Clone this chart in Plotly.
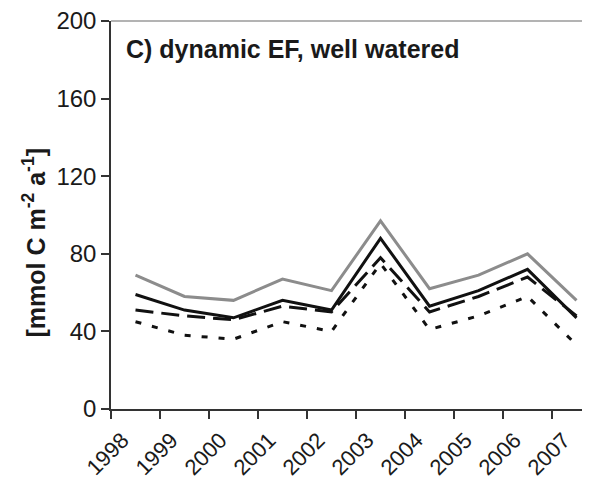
import plotly.graph_objects as go

# values
years = ["1998", "1999", "2000", "2001", "2002", "2003", "2004", "2005", "2006", "2007"]
gray_solid = [69, 58, 56, 67, 61, 97, 62, 69, 80, 56]
black_solid = [59, 51, 47, 56, 51, 88, 53, 61, 72, 47]
black_dash = [51, 48, 46, 53, 50, 78, 50, 58, 68, 48]
black_dot = [45, 38, 36, 45, 40, 75, 41, 48, 58, 33]
y_ticks = [0, 40, 80, 120, 160, 200]

FONT = "Liberation Sans, Arial, sans-serif"
TEXT = "#1a1a1a"

fig = go.Figure()

fig.add_trace(go.Scatter(x=years, y=gray_solid, mode="lines",
                         line=dict(color="#8c8c8c", width=3)))
fig.add_trace(go.Scatter(x=years, y=black_solid, mode="lines",
                         line=dict(color="#111111", width=3)))
fig.add_trace(go.Scatter(x=years, y=black_dash, mode="lines",
                         line=dict(color="#111111", width=3, dash="18px,8px")))
fig.add_trace(go.Scatter(x=years, y=black_dot, mode="lines",
                         line=dict(color="#111111", width=3, dash="6px,11px")))

# grey frame line along the top of the plot
fig.add_shape(type="line", xref="paper", yref="paper", x0=0, x1=1.02, y0=1, y1=1,
              line=dict(color="#9a9a9a", width=1.5))

fig.add_annotation(text="<b>C) dynamic EF, well watered</b>",
                   xref="paper", yref="paper", x=0.027, y=0.928,
                   xanchor="left", yanchor="middle", showarrow=False,
                   font=dict(family=FONT, size=25, color=TEXT))

fig.add_annotation(text="<b>[mmol C m<sup>-2</sup> a<sup>-1</sup>]</b>",
                   xref="paper", yref="paper", x=-0.16, y=0.43,
                   xanchor="center", yanchor="middle", textangle=-90,
                   showarrow=False,
                   font=dict(family=FONT, size=25, color=TEXT))

fig.update_xaxes(
    type="category",
    categoryorder="array",
    categoryarray=years,
    range=[-0.5, 9.275],
    tickson="boundaries",
    ticks="outside",
    ticklen=8,
    tickwidth=1.5,
    tickcolor="#333333",
    tickangle=-45,
    ticklabelshift=-13,
    ticklabelstandoff=8,
    showline=True,
    linecolor="#333333",
    linewidth=1.5,
    showgrid=False,
    zeroline=False,
    tickfont=dict(family=FONT, size=22, color=TEXT),
)
fig.update_yaxes(
    range=[0, 200],
    tickvals=y_ticks,
    ticks="outside",
    ticklen=8,
    tickwidth=1.5,
    tickcolor="#333333",
    ticklabeloverflow="allow",
    showline=True,
    linecolor="#333333",
    linewidth=1.5,
    showgrid=False,
    zeroline=False,
    tickfont=dict(family=FONT, size=24, color=TEXT),
)

fig.update_layout(
    width=582,
    height=480,
    margin=dict(l=103, r=0, t=13, b=79),
    showlegend=False,
    plot_bgcolor="white",
    paper_bgcolor="white",
    font=dict(family=FONT, color=TEXT),
)

fig.write_html("out.html")
